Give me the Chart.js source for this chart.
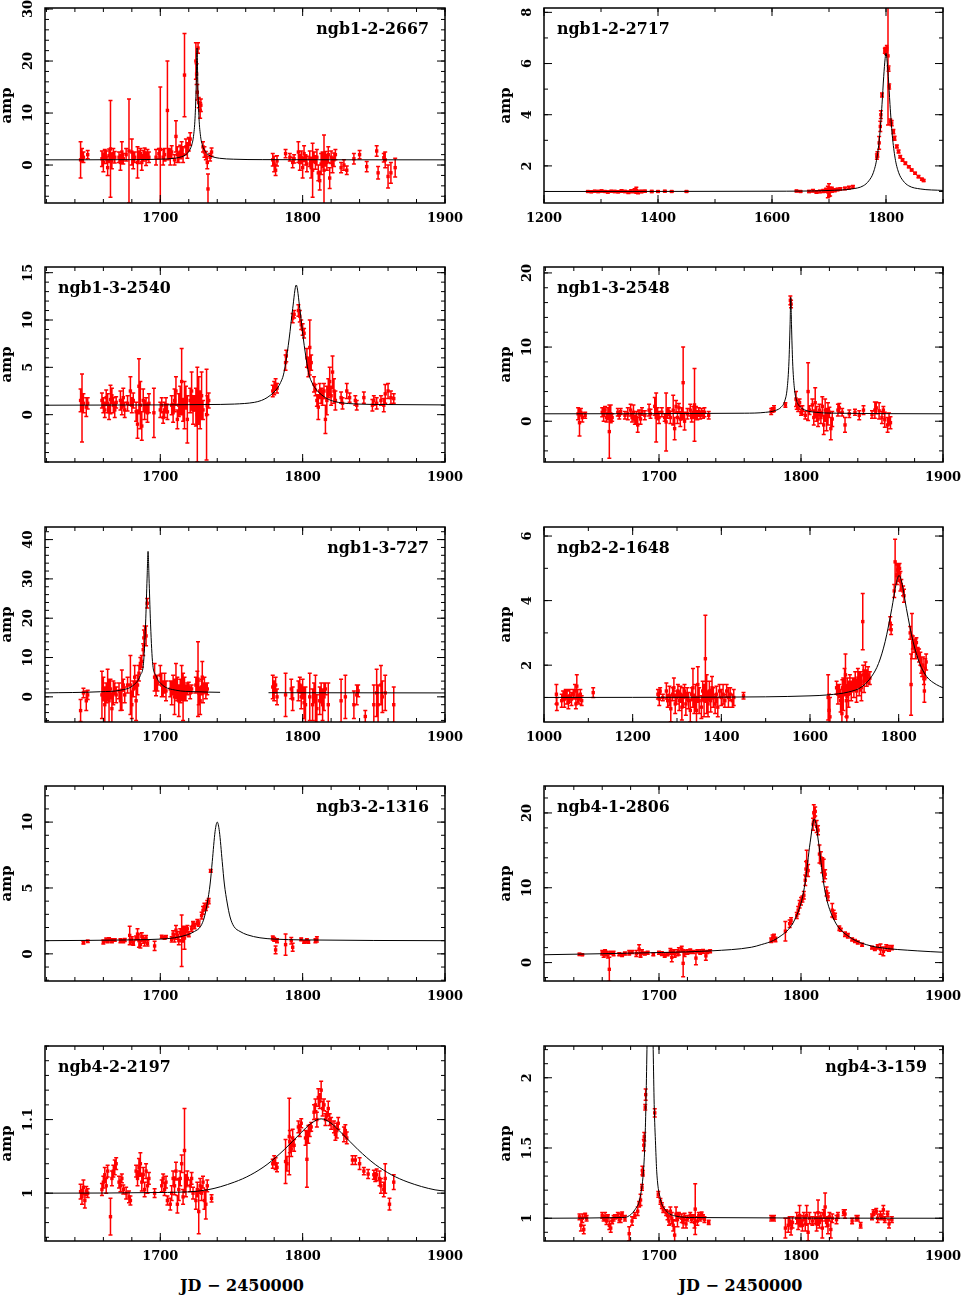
<!DOCTYPE html>
<html>
<head>
<meta charset="utf-8">
<script src="https://cdn.jsdelivr.net/npm/chart.js@4/dist/chart.umd.min.js"></script>
<style>
  body { margin: 0; background: #fff; width: 964px; height: 1295px; position: relative; overflow: hidden; }
  canvas { position: absolute; }
  .xt { position: absolute; top: 1276px; height: 20px; line-height: 20px; text-align: center;
        font: bold 16px "DejaVu Serif", serif; color: #000; margin-left: -3px; }
</style>
</head>
<body>
<div class="xt" style="left:45px;width:400px">JD − 2450000</div>
<div class="xt" style="left:544px;width:399px">JD − 2450000</div>
<script>
// observations are [JD-2450000, amp, error], fits are [JD-2450000, amp]
const p1Obs = [[1644,1.0,3.5],[1645,2.0,1.2],[1646,1.5,1.0],[1649,2.0,0.8],
  [1659,1.2,1.5],[1660,0.5,1.8],[1661,2.0,1.0],[1662,1.5,1.2],[1663,-0.5,1.5],[1664,1.8,1.3],[1665,3.1,9.3],[1666,0.8,1.5],[1667,2.2,1.0],[1668,1.5,1.1],
  [1671,1.5,1.0],[1672,0.5,1.5],[1673,2.5,2.0],[1674,1.2,1.0],[1676,2.0,1.2],[1678,2.7,10],[1680,2.5,2.5],[1681,0.8,1.5],[1682,1.5,1.0],
  [1684,0.5,3.0],[1685,1.5,1.2],[1686,2.2,1.0],[1687,0.5,1.5],[1688,1.8,1.0],[1689,2.3,1.0],[1690,1.2,1.3],[1691,2.0,1.0],[1692,1.5,1.0],
  [1697,1.5,1.5],[1699,2.2,1.0],[1700,3.0,12],[1702,1.5,1.5],[1703,2.0,1.2],[1705,10.5,9.5],[1706,2.2,1.0],[1707,1.5,1.5],[1708,2.5,1.2],[1710,1.0,1.0],
  [1711,5.5,3.0],[1712,2.0,1.5],[1713,1.5,1.0],[1714,2.5,1.3],[1715,3.0,1.5],[1716,2.0,1.5],[1717,17.3,8.0],[1718,3.5,1.5],[1719,2.8,1.5],[1720,4.0,1.3],[1721,5.0,1.2],
  [1725,20,3.5],[1725.5,17.5,2],[1726,14,1.5],[1726.5,22.5,1],[1727,12,1],[1728,10.5,1.5],[1728.5,11.5,1.2],
  [1730,3.5,1],[1731,2.5,1],[1732,1.8,0.8],[1733,0.5,1.2],[1733.5,-4.6,2.9],[1735,1.5,0.7],[1736,2.5,0.8],
  [1779,1.0,1.2],[1780,0.2,1.5],[1781,-1.0,1.0],[1782,0.8,1.0],
  [1788,2.2,0.8],[1791,1.5,0.7],[1793,0.5,1.0],[1794,1.2,0.8],
  [1797,2.5,2],[1798,0.5,1.5],[1799,1.5,1.2],[1800,-0.5,2],[1801,2.2,1.5],[1802,1,1],[1803,0.2,1.5],[1805,1.2,1.5],[1806,-0.5,2],[1807,-1,5.2],
  [1808,1.5,1],[1809,0.5,1.3],[1810,1.5,1.5],[1811,-1.5,1.5],[1812,-3,1.8],[1813,0.2,2],[1814,1,1.5],[1815,-1,6.8],[1816,1.2,1.4],[1817,0.5,1.5],
  [1818,2,1.5],[1819,-2.5,2],[1820,1.5,1.2],[1821,0,1.5],[1822,1,1.3],[1823,2,1],
  [1827,-0.5,1],[1829,0,1],[1831,-1,0.8],[1836,1.2,1],[1840,2,0.8],[1845,-0.3,1],[1852,2.7,1],[1853,-1.5,1.2],[1857,1.4,0.8],[1858,1,1.5],
  [1860,-2.2,2.2],[1862,-1.5,2],[1865,-0.5,1.8]];
const p1Fit = [[1619,1.0],[1680,1.04],[1700,1.12],[1710,1.3],[1715,1.6],[1718,2.0],[1720,2.6],[1722,3.8],[1723.3,5.5],[1724.4,9],[1725.2,15],
  [1725.8,22.5],[1726.4,15],[1727.2,9],[1728.3,5.5],[1729.6,3.8],[1731.6,2.6],[1733.6,2.0],[1736.6,1.6],[1741.6,1.3],[1751.6,1.12],[1771.6,1.04],[1900,1.0]];

const p2Obs = [[1277,1.0,0.03],[1283,0.99,0.03],[1289,1.01,0.03],[1295,1.0,0.04],[1301,1.02,0.04],[1307,1.0,0.03],[1312,0.98,0.04],[1318,1.01,0.03],
  [1324,1.0,0.04],[1330,0.99,0.04],[1336,1.02,0.05],[1342,1.0,0.04],[1348,0.97,0.05],[1353,1.01,0.06],[1359,1.03,0.08],[1362,1.05,0.12],[1365,0.98,0.07],
  [1371,1.0,0.05],[1377,1.01,0.04],[1389,1.0,0.04],[1400,1.0,0.03],[1412,1.01,0.03],[1424,1.0,0.03],[1450,1.0,0.03],
  [1643,1.02,0.03],[1650,1.0,0.03],[1665,1.0,0.04],[1672,1.03,0.05],[1678,0.98,0.05],[1684,1.0,0.05],[1690,1.02,0.06],[1695,1.05,0.08],[1698,0.98,0.22],
  [1700,1.05,0.25],[1702,1.0,0.18],[1705,1.07,0.1],[1710,1.05,0.06],[1715,1.08,0.05],[1720,1.1,0.05],[1728,1.12,0.05],[1735,1.15,0.05],[1742,1.18,0.05],
  [1784,2.36,0.1],[1785,2.45,0.1],[1788,2.9,0.25],[1790,3.54,0.2],[1791,4.0,0.15],[1793,4.77,0.08],[1798,6.5,0.1],[1799,6.53,0.1],[1800,6.45,0.1],
  [1801.5,6.6,0.1],[1803.5,6.3,2.7],[1804.5,5.8,0.1],[1805.6,5.1,0.1],[1807.4,3.73,0.1],[1810,3.67,0.1],[1813,3.34,0.08],[1815,3.08,0.08],[1819,2.76,0.06],
  [1822,2.56,0.06],[1825,2.36,0.05],[1829,2.23,0.05],[1834,2.1,0.05],[1840,1.97,0.04],[1845,1.84,0.04],[1851,1.71,0.04],[1857,1.58,0.04],[1863,1.48,0.04],[1866,1.43,0.04]];
const p2Fit = [[1200,1.0],[1600,1.01],[1700,1.04],[1740,1.1],[1760,1.22],[1770,1.42],[1778,1.75],[1784,2.3],[1789,3.2],[1793,4.4],[1796,5.5],[1798.5,6.2],
  [1800,6.4],[1801.5,6.2],[1804,5.5],[1807,4.4],[1811,3.2],[1816,2.3],[1822,1.75],[1830,1.42],[1840,1.22],[1860,1.1],[1900,1.04]];

const p3Obs = [[1644,1.5,1.2],[1645,0.7,3.6],[1646,1.2,1.0],[1648,0.8,1.0],[1649,1.2,0.6],
  [1659,1.5,0.8],[1660,1.0,0.8],[1661,0.5,0.8],[1662,1.8,0.8],[1663,1.2,1.0],[1664,0.3,0.8],[1665,1.6,1.5],[1666,2.0,0.8],[1667,1.0,0.8],[1668,0.5,0.8],[1669,1.3,0.6],
  [1672,1.5,1.0],[1673,0.8,0.8],[1674,1.8,1.0],[1675,0.5,0.8],[1677,1.2,0.8],[1679,2.5,1.5],[1680,1.0,0.8],[1681,1.5,0.8],
  [1683,0.3,1.0],[1684,-1.0,1.5],[1685,3.0,2.9],[1686,1.0,2.5],[1687,-1.2,1.5],[1688,1.5,1.2],[1689,0.5,1.0],[1690,1.0,0.8],[1691,0.2,1.0],[1692,1.2,1.0],
  [1695.5,0.2,2.6],[1700,0.5,0.8],[1701,1.0,0.8],[1702,-0.3,0.6],[1703,0.5,0.8],[1704,1.0,0.8],[1705,0.3,0.8],[1708,1.0,1.0],[1709,0.2,1.0],[1710,1.5,1.2],
  [1711,2.5,1.5],[1712,-0.5,1.0],[1713,1.0,1.2],[1714,1.5,1.5],[1715,3.5,3.5],[1716,0.5,1.2],[1717,1.0,2.5],[1718,1.8,1.2],[1719,-0.5,2.5],
  [1721,1.5,1.3],[1722,2.5,2.0],[1723,0.5,1.5],[1724,1.2,0.8],[1725,0.8,2.0],[1726,0.0,5.0],[1727,1.5,2.5],[1728,0.5,2.0],[1729,2.0,2.5],[1730,0.5,1.0],
  [1732.5,0.0,4.8],[1733,1.0,1.0],[1734,1.5,0.8],
  [1779,2.5,0.6],[1780,2.8,0.7],[1781,3.2,0.6],[1782,2.8,0.5],[1788,5.5,0.8],[1788.5,6.2,0.6],[1793,10.2,0.5],[1794,10.6,0.4],
  [1797,11.0,0.6],[1798,10.4,0.6],[1799,9.5,0.5],[1800,9.0,0.6],[1801,8.6,0.5],[1803,6.0,1.0],[1804,5.0,1.0],[1805,7.1,2.9],[1806,5.5,0.8],
  [1808,3.2,0.8],[1809,2.6,0.6],[1810,1.5,0.6],[1811,0.8,1.3],[1812,2.5,0.8],[1813,2.0,0.8],[1814,1.8,0.8],[1815,2.5,0.8],[1816,-0.5,1.5],[1817,1.5,1.5],
  [1818,2.8,1.0],[1819,3.5,1.5],[1820,2.0,1.0],[1821,4.5,1.7],[1822,2.5,1.3],[1823,1.5,1.0],
  [1827,1.8,0.6],[1828,1.2,0.6],[1831,2.5,0.8],[1833,1.8,0.5],[1837,1.5,0.5],[1838,1.0,0.5],[1843,1.8,0.6],[1849,1.0,0.6],[1850,1.5,0.5],[1852,1.2,0.6],
  [1855,1.5,0.5],[1857,1.0,0.7],[1858,2.2,1.0],[1860,2.5,0.8],[1862,1.8,0.7],[1864,1.7,0.5]];
const p3Fit = [[1619,1.0],[1700,1.03],[1733,1.07],[1752,1.12],[1766,1.3],[1771,1.5],[1775,1.8],[1780,2.4],[1782.5,2.85],[1784.5,3.4],[1786.5,4.2],
  [1788,5.4],[1790.5,8.0],[1793,11.2],[1795.5,13.7],[1798,11.2],[1800.5,8.0],[1803,5.4],[1804.5,4.2],[1806.5,3.4],[1808.5,2.85],[1811,2.4],
  [1816,1.8],[1820,1.5],[1825,1.3],[1839,1.12],[1858,1.07],[1900,1.03]];

const p4Obs = [[1643,1.0,0.8],[1644,-0.2,1.8],[1645,1.2,0.5],[1646,0.5,0.6],[1648,0.8,0.4],
  [1660,1.2,0.6],[1661,0.8,0.8],[1662,1.5,0.5],[1663,0.5,0.6],[1664,1.0,0.8],[1665,-1.4,3.6],[1666,1.0,1.2],[1667,0.5,0.5],
  [1671,1.2,0.5],[1672,0.8,0.5],[1673,1.3,0.4],[1676,0.8,0.5],[1678,1.0,0.8],[1680,1.5,0.8],[1681,0.5,0.6],[1682,1.2,1.0],[1683,0.2,0.6],
  [1684,0.5,0.8],[1685,-0.5,1.0],[1686,1.0,0.5],[1687,0.3,0.7],[1688,1.3,0.5],[1690,0.8,0.6],[1693,1.5,0.8],[1694,1.0,0.6],
  [1697,2.0,1.2],[1698,0.5,3.3],[1699,1.0,0.8],[1700,0.5,0.8],[1702,1.2,0.6],[1704,0.5,0.5],[1705,-0.1,3.9],[1706,1.0,0.6],
  [1707,1.3,0.5],[1708,0.5,0.8],[1710,1.5,2.0],[1711,-1.0,1.5],[1712,2.0,0.8],[1713,0.5,0.8],[1714,1.8,0.6],[1715,0.3,1.0],[1716,1.0,0.8],[1717,5.2,4.8],[1718,0.0,1.2],
  [1720,1.0,0.7],[1722,1.5,0.8],[1723,0.5,0.6],[1724,1.2,0.8],[1725,2.2,4.9],[1726,1.2,0.8],[1727,0.8,0.6],[1728,1.3,0.5],[1729,0.8,0.5],[1730,1.2,0.5],
  [1731,0.9,0.5],[1732,1.2,0.6],[1735,0.8,0.5],
  [1779,1.3,0.4],[1780,1.5,0.3],[1781,1.7,0.4],[1789,2.2,0.3],[1792.5,16.3,0.6],[1793,15.8,0.5],
  [1796.5,3.0,1.0],[1797,2.2,0.6],[1798,1.8,0.5],[1799,2.5,0.5],[1800,1.2,0.4],[1801,1.5,0.6],
  [1803,0.8,0.5],[1805,4.0,3.9],[1806,1.5,0.6],[1808,2.2,0.8],[1809,0.5,1.0],[1810,2.5,2.0],[1811,1.0,1.0],[1812,0.3,1.0],[1813,1.5,0.8],
  [1814,0.5,0.8],[1815,2.0,1.3],[1816,-0.5,1.3],[1817,1.5,1.5],[1818,0.2,1.5],[1819,1.0,1.5],[1820,1.2,0.7],[1821,-1.0,1.5],[1822,0.3,1.0],
  [1826,1.5,0.8],[1827,1.8,0.6],[1829,1.2,0.5],[1831,-0.5,1.0],[1834,1.0,0.5],[1838,1.2,0.4],[1841,0.8,0.6],[1844,1.5,0.6],[1850,0.9,0.5],
  [1852,1.5,1.1],[1853,1.8,0.8],[1855,1.4,1.1],[1857,0.5,0.8],[1858,1.5,0.5],[1859,0.2,1.0],[1861,-0.5,1.0],[1862,0.3,0.8],[1863,-0.2,0.8]];
const p4Fit = [[1619,1.0],[1760,1.08],[1775,1.2],[1782,1.45],[1786,1.9],[1788.5,2.7],[1790.3,4.5],[1791.5,8],[1792.3,13],[1792.8,16.7],
  [1793.3,13],[1794.1,8],[1795.3,4.5],[1797.1,2.7],[1799.6,1.9],[1803.6,1.45],[1810.6,1.2],[1825.6,1.08],[1900,1.0]];

const p5Obs = [[1644,-3.5,2.8],[1646,1.0,1.2],[1648,-1.0,2.5],[1649,0.5,1.2],
  [1659,0.5,6.0],[1660,2.0,3.0],[1661,-2.0,4.5],[1662,1.0,2.5],[1663,3.0,4.0],[1664,-1.0,5.5],[1665,2.0,2.5],[1666,-3.0,4.0],[1667,1.0,3.0],[1668,2.0,1.5],[1669,0.5,2.0],
  [1671,1.5,2.0],[1672,-1.0,2.5],[1673,1.7,5.1],[1674,3.0,1.5],[1675,0.5,2.0],[1677,3.0,2.0],[1679,3.0,7.5],[1680,-2.0,3.5],[1681,2.0,2.0],
  [1682,5.0,3.0],[1683,-1.0,5.0],[1684,3.0,2.5],[1685,6.0,2.0],[1686,8.5,1.5],[1687,9.0,1.5],[1688,12.0,1.5],[1688.5,15.0,2.0],[1689,16.5,1.5],[1690,15.5,2.5],
  [1690.8,23.8,1.2],
  [1696,5.0,3.5],[1697,2.8,2.5],[1698,3.5,2.0],[1700,5.5,2.5],[1701,3.0,3.0],[1702,2.0,2.0],[1703,3.5,2.5],[1704,1.5,2.5],
  [1707,2.0,2.0],[1708,1.0,3.0],[1709,3.0,2.5],[1710,0.0,4.5],[1711,4.0,4.5],[1712,2.0,3.0],[1713,-1.0,4.0],[1714,1.5,3.0],[1715,3.5,4.5],[1716,0.0,6.0],
  [1717,2.0,3.0],[1718,1.0,2.0],[1719,2.0,1.5],[1720,2.5,1.2],[1721,1.0,1.5],[1722,2.0,1.0],
  [1725,3.0,2.0],[1726,4.0,2.5],[1726.5,4.5,9.5],[1727,1.0,3.0],[1728,-1.0,3.5],[1729,2.5,2.0],[1729.5,5.0,4.0],[1730,1.0,2.5],[1731,3.0,2.0],[1732,1.5,2.0],[1733,2.0,1.5],
  [1779,2.5,3.0],[1780,1.5,2.5],[1781,3.0,2.0],[1782,0.0,2.0],[1788,0.5,5.5],[1792,2.0,2.5],[1793,-0.5,3.0],
  [1797,1.5,2.5],[1798,3.0,2.0],[1799,0.0,3.0],[1800,2.0,2.5],[1801,-1.5,4.0],[1802,-2.0,4.5],[1805,0.0,6.0],[1807,-2.0,4.0],[1808,1.0,2.5],[1809,-1.0,6.5],
  [1810,-3.0,3.5],[1812,-1.0,3.5],[1813,1.0,2.5],[1814,-2.0,4.0],[1815,0.0,3.5],[1816,2.0,1.5],[1818,-2.0,5.5],
  [1827,-1.0,5.5],[1830,0.0,5.5],[1836,-2.0,3.5],[1838,0.5,2.5],[1839,1.5,1.5],[1844,-5.0,1.5],[1850,-2.0,5.0],[1852,1.0,6.0],[1853,-2.0,5.0],
  [1855,3.0,5.0],[1856,0.0,4.0],[1858,1.0,4.5],[1864,-2.0,4.5]];
const p5Fit = [[1619,1.0],[1658,1.3],[1672,1.7],[1681.3,3.0],[1686,5.5],[1688.3,9],[1689.8,20],[1690.7,30],[1691.4,37],[1692.1,30],[1693,20],
  [1694.5,9],[1696.8,5.5],[1701.5,3.0],[1710.8,1.7],[1725,1.3],[1742,1.15],[1759,null],[1776,1.05],[1900,1.0]];

const p6Obs = [[1028,1.1,0.3],[1029,0.8,0.2],[1040,0.9,0.2],[1043,1.05,0.15],[1046,0.95,0.25],[1049,1.1,0.15],[1052,1.0,0.2],[1055,0.85,0.2],[1058,1.05,0.2],
  [1062,0.95,0.2],[1066,1.1,0.15],[1070,1.2,0.2],[1072,0.8,0.15],[1074,1.35,0.35],[1076,1.05,0.2],[1079,0.95,0.15],[1082,1.1,0.15],[1085,0.9,0.15],[1111,1.15,0.15],
  [1257,1.1,0.15],[1260,0.95,0.2],[1262,1.2,0.1],[1268,1.0,0.1],
  [1276,1.2,0.25],[1279,0.9,0.2],[1283,1.05,0.3],[1286,0.65,0.4],[1290,1.1,0.2],[1293,1.3,0.3],[1296,0.8,0.3],[1299,1.0,0.2],[1302,1.2,0.2],[1305,0.9,0.3],
  [1308,1.1,0.25],[1311,0.7,0.4],[1314,1.0,0.3],[1317,1.2,0.2],[1320,0.8,0.35],[1323,1.1,0.2],[1326,0.9,0.25],[1330,0.6,0.35],[1333,1.1,0.2],[1336,1.3,0.6],
  [1339,0.8,0.3],[1342,1.0,0.4],[1344,0.6,0.4],[1347,1.4,0.55],[1350,0.9,0.4],[1355,0.7,0.35],[1358,1.2,0.3],[1361,0.9,0.5],[1364,2.2,1.35],[1367,1.1,0.6],
  [1370,0.8,0.4],[1373,1.2,0.3],[1376,0.9,0.35],[1379,1.3,0.35],[1382,1.0,0.3],[1386,0.8,0.3],[1389,1.1,0.25],[1392,0.7,0.3],[1396,1.2,0.2],[1400,1.0,0.25],
  [1404,1.1,0.3],[1408,0.9,0.2],[1412,1.2,0.2],[1416,1.0,0.3],[1420,1.1,0.2],[1425,0.9,0.2],[1428,1.0,0.25],[1450,1.05,0.1],
  [1641,1.0,0.7],[1643,0.6,0.5],[1645,0.4,0.6],[1660,1.3,0.2],[1663,1.1,0.3],[1666,1.2,0.2],[1669,0.9,0.35],[1672,0.5,0.6],[1673,1.3,0.25],[1675,1.1,0.5],
  [1678,1.5,0.4],[1680,1.7,0.65],[1682,0.9,0.5],[1683,0.4,0.7],[1684,1.3,0.3],[1687,1.1,0.4],[1690,1.4,0.3],[1693,1.2,0.3],[1696,1.4,0.2],[1699,1.3,0.3],
  [1702,1.5,0.3],[1705,1.2,0.35],[1708,1.6,0.3],[1711,1.4,0.35],[1714,1.5,0.3],[1716,1.3,0.4],[1719,3.35,0.87],[1720,1.7,0.3],[1722,1.5,0.35],[1725,1.8,0.3],
  [1728,1.6,0.25],[1731,1.7,0.25],[1735,1.6,0.2],
  [1781,3.3,0.2],[1783,3.1,0.15],[1790,4.3,0.2],[1792,5.2,0.7],
  [1796,4.8,0.3],[1798,4.95,0.2],[1800,4.85,0.25],[1802,5.0,0.15],[1804,4.6,0.3],[1806,4.5,0.15],[1810,4.3,0.15],[1812,4.15,0.2],
  [1826,3.0,0.2],[1828,1.4,0.95],[1830,2.9,0.7],[1832,2.7,0.2],[1835,2.6,0.2],[1838,2.5,0.3],[1840,2.7,0.15],[1843,2.4,0.15],[1846,2.3,0.2],[1849,2.2,0.2],
  [1851,2.0,0.25],[1853,1.8,0.15],[1855,2.0,0.25],[1857,1.6,0.2],[1858,1.2,0.35],[1860,1.9,0.3],[1862,2.1,0.25]];
const p6Fit = [[1000,1.0],[1400,1.01],[1500,1.02],[1600,1.05],[1641,1.08],[1687,1.17],[1717,1.33],[1739,1.65],[1754.5,2.05],[1769.5,2.73],[1784.6,3.76],
  [1794,4.5],[1801,4.78],[1808,4.5],[1817.4,3.76],[1832.5,2.73],[1847.5,2.05],[1863,1.65],[1885,1.4],[1900,1.3]];

const p7Obs = [[1646,0.85,0.1],[1649,0.95,0.08],
  [1660,0.9,0.15],[1662,1.05,0.15],[1663,0.95,0.1],[1664,1.1,0.12],[1666,1.0,0.15],[1668,1.05,0.1],
  [1672,1.0,0.15],[1674,0.95,0.1],[1675,1.05,0.12],[1678.5,1.4,0.7],[1679,0.9,0.2],[1680,1.1,0.2],[1681,0.8,0.15],[1683,1.2,0.15],
  [1684,1.5,0.4],[1685,1.0,0.5],[1686,0.7,0.25],[1687,1.3,0.3],[1688,1.1,0.3],[1689,0.9,0.3],[1690,1.2,0.2],[1691,0.8,0.2],
  [1696,0.6,0.35],[1701,1.3,0.12],[1703,1.2,0.1],[1704,1.3,0.1],
  [1708,1.1,0.2],[1709,1.5,0.25],[1710,1.2,0.3],[1711,1.8,0.35],[1712,1.4,0.3],[1713,1.0,0.3],[1714,1.6,0.3],[1715,1.0,1.95],[1716,1.5,0.6],[1717,1.2,0.85],
  [1718,1.7,0.3],[1719,1.9,0.25],[1720,1.5,0.2],[1722,1.9,0.2],[1723,2.3,0.15],[1724,2.1,0.2],[1726,2.4,0.2],[1727,2.3,0.2],[1729,2.9,0.25],[1730,3.3,0.3],
  [1731,3.6,0.25],[1732,3.5,0.2],[1733,3.8,0.25],[1734,4.0,0.2],[1735.4,6.3,0.1],
  [1779,1.2,0.15],[1780,1.1,0.15],[1781,0.3,0.3],[1782,1.0,0.15],[1788,0.7,0.8],[1792,1.0,0.25],[1793,0.5,0.3],
  [1799,1.1,0.1],[1801,0.9,0.1],[1803,1.0,0.15],[1804,0.9,0.1],[1809,1.0,0.15],[1810,1.1,0.2]];
const p7Fit = [[1619,1.0],[1680,1.06],[1700,1.12],[1710,1.22],[1719,1.45],[1724,1.7],[1728.3,2.08],[1731,2.8],[1733,3.86],[1735,5.3],[1736.5,7.0],
  [1738.5,9.3],[1740,10.0],[1741.5,9.3],[1743.5,7.0],[1745,5.3],[1747,3.86],[1749,2.8],[1751.7,2.08],[1756,1.7],[1761,1.45],[1770,1.22],
  [1780,1.12],[1800,1.06],[1900,1.0]];

const p8Obs = [[1644,1.1,0.15],[1646,1.05,0.1],
  [1660,1.3,0.3],[1661,1.1,0.4],[1662,1.4,0.3],[1663,1.2,0.3],[1664,1.0,0.4],[1665,-0.9,1.6],[1666,1.3,0.2],[1668,1.2,0.3],
  [1672,1.1,0.2],[1674,1.0,0.2],[1676,1.2,0.2],[1679,1.3,0.3],[1681,1.4,0.2],[1684,1.2,0.4],[1686,1.8,0.6],[1687,1.0,0.3],[1688,1.4,0.3],[1690,1.2,0.2],[1692,1.3,0.2],
  [1696,1.1,0.2],[1700,1.3,0.2],[1702,1.2,0.25],[1704,1.0,0.3],[1706,1.1,0.2],[1708,1.5,0.4],[1709,0.7,0.6],[1710,1.4,0.3],[1711,1.2,0.5],[1713,1.3,0.4],
  [1714,1.5,0.5],[1716,1.8,0.4],[1717,-0.1,1.8],[1718,1.2,0.4],[1720,1.4,0.3],[1722,1.5,0.3],[1724,1.4,0.2],[1726,0.6,0.9],[1727,1.5,0.2],[1729,1.4,0.3],
  [1731,1.5,0.25],[1733,0.9,0.6],[1734,1.4,0.2],[1736,1.5,0.2],
  [1779,3.0,0.3],[1780,3.3,0.4],[1781,3.5,0.3],[1782,3.1,0.3],[1789,4.2,1.3],[1792,5.2,0.5],[1793,5.6,0.4],
  [1797,6.3,0.4],[1798,7.0,0.5],[1799,7.8,0.5],[1800,8.2,0.5],[1801,8.5,0.4],[1802,9.0,0.5],[1803,11.0,0.7],[1803.5,12.5,1.0],[1804,13.5,1.5],[1805,12.3,0.8],
  [1808.5,18.5,0.8],[1809,20.0,1.1],[1809.5,19.5,0.7],[1810,20.2,0.6],[1811,18.2,0.8],[1812,17.7,0.6],[1813,14.5,1.2],[1814,14.0,0.8],
  [1815,13.0,1.0],[1816,12.3,1.5],[1817,11.8,0.6],[1818,9.5,0.6],[1819,8.8,0.5],
  [1822,7.0,0.9],[1823,6.5,0.5],[1824,6.2,0.4],[1827,4.6,0.3],[1828,4.4,0.2],[1831,3.8,0.3],[1833,3.6,0.3],[1836,3.1,0.2],[1838,2.9,0.2],[1840,2.7,0.2],[1843,2.4,0.2],
  [1850,2.0,0.2],[1852,1.8,0.2],[1854,2.1,0.3],[1856,1.8,0.7],[1858,1.5,0.6],[1860,2.0,0.4],[1862,1.9,0.4],[1864,2.0,0.3]];
const p8Fit = [[1619,1.05],[1701.7,1.35],[1737,1.57],[1765,2.05],[1772,2.4],[1780.5,2.95],[1786,3.6],[1791,4.4],[1795.5,5.7],[1800.5,8.3],[1803,10.8],
  [1806.4,16.0],[1809.4,19.2],[1812.4,16.0],[1815.8,10.8],[1818.3,8.3],[1823.3,5.7],[1827.8,4.4],[1832.8,3.6],[1838.3,2.95],[1846,2.4],
  [1853.8,2.05],[1881.8,1.57],[1900,1.38]];

const p9Obs = [[1644,1.002,0.01],[1645,0.995,0.01],[1646,1.008,0.01],[1647,0.99,0.01],[1648,1.003,0.006],[1649,1.0,0.006],
  [1659,1.005,0.008],[1660,1.015,0.008],[1661,1.025,0.01],[1662,1.01,0.01],[1663,1.03,0.008],[1665,0.968,0.025],[1666,1.02,0.01],[1667,1.03,0.008],
  [1668,1.035,0.01],[1669,1.04,0.008],[1671,1.015,0.008],[1672,1.01,0.008],[1673,1.02,0.006],[1674,1.005,0.006],[1676,1.0,0.008],[1678,0.995,0.008],[1679,0.99,0.006],
  [1683,1.03,0.008],[1684,1.02,0.01],[1685,1.035,0.012],[1686,1.04,0.015],[1687,1.015,0.012],[1688,1.025,0.01],[1689,1.005,0.01],[1690,1.03,0.01],[1691,1.01,0.01],[1692,1.02,0.008],
  [1696,1.0,0.006],[1701,1.01,0.008],[1702,1.02,0.006],[1703,1.005,0.008],[1704,1.015,0.008],[1705,0.99,0.006],
  [1707,0.985,0.008],[1708,1.0,0.01],[1709,1.02,0.01],[1710,1.01,0.012],[1711,1.03,0.012],[1712,0.985,0.012],[1713,1.005,0.015],[1714,1.02,0.01],[1715,1.04,0.012],
  [1716,0.995,0.01],[1717,1.058,0.057],[1718,1.01,0.015],[1719,1.02,0.01],
  [1721,1.01,0.008],[1722,1.02,0.008],[1723,1.0,0.008],[1725,0.99,0.012],[1726,1.005,0.01],[1727,0.975,0.03],[1728,1.01,0.01],[1729,1.0,0.01],[1730,1.015,0.008],
  [1731,0.99,0.012],[1732,0.985,0.02],[1733,1.01,0.008],[1736,0.993,0.005],
  [1779,1.04,0.006],[1780,1.045,0.006],[1781,1.04,0.008],[1782,1.035,0.006],
  [1788,1.043,0.03],[1789,1.04,0.01],[1790.6,1.077,0.052],[1791,1.07,0.015],[1792,1.06,0.01],[1793,1.075,0.012],[1794,1.065,0.008],
  [1797,1.09,0.008],[1798,1.085,0.008],[1799,1.095,0.006],[1802,1.075,0.01],[1803,1.046,0.038],[1804,1.08,0.012],[1805,1.085,0.008],[1806,1.09,0.006],
  [1808,1.11,0.01],[1809,1.12,0.008],[1810,1.1,0.01],[1811,1.13,0.012],[1812,1.125,0.01],[1813,1.14,0.012],[1814,1.115,0.01],[1815,1.12,0.008],[1816,1.1,0.008],
  [1817,1.105,0.006],[1818,1.115,0.01],[1819,1.1,0.008],[1820,1.095,0.008],
  [1822,1.09,0.008],[1823,1.08,0.008],[1824,1.085,0.01],[1825,1.095,0.008],[1829,1.08,0.01],[1830,1.085,0.008],[1831,1.075,0.008],
  [1835,1.045,0.006],[1837,1.045,0.006],[1840,1.04,0.008],[1843,1.03,0.005],[1846,1.026,0.006],[1850,1.025,0.006],[1851,1.022,0.006],[1852,1.025,0.008],
  [1854,1.02,0.01],[1855,1.01,0.01],[1857,1.005,0.01],[1858,1.02,0.02],[1861,0.985,0.008],[1864,1.015,0.01]];
const p9Fit = [[1619,1.0],[1705,1.001],[1733,1.0045],[1752,1.015],[1763.6,1.025],[1775,1.039],[1787,1.059],[1798.8,1.082],[1806,1.095],[1813,1.101],
  [1820,1.095],[1827.2,1.082],[1839,1.059],[1851,1.039],[1862.4,1.025],[1874,1.015],[1893,1.0045],[1900,1.003]];

const p10Obs = [[1644,1.01,0.02],[1645,0.95,0.04],[1646,1.0,0.03],[1647,0.92,0.03],[1648,1.02,0.015],[1649,1.0,0.02],
  [1660,1.02,0.02],[1661,1.0,0.02],[1662,1.01,0.03],[1663,0.98,0.025],[1664,1.01,0.015],[1665,0.95,0.03],[1666,0.93,0.03],[1667,0.98,0.02],[1668,1.0,0.02],[1669,1.01,0.015],
  [1671,1.02,0.02],[1672,0.99,0.02],[1673,1.0,0.03],[1674,1.03,0.015],[1676,1.0,0.02],
  [1679,0.89,0.05],[1681,0.98,0.03],[1683,1.02,0.02],[1685,1.05,0.03],[1686,1.1,0.02],[1687,1.13,0.04],[1688,1.22,0.02],[1688.3,1.34,0.03],[1688.6,1.32,0.02],
  [1689.3,1.52,0.04],[1689.6,1.58,0.03],[1690.3,1.79,0.02],[1690.6,1.88,0.04],[1697,1.75,0.03],
  [1699.5,1.17,0.02],[1701,1.12,0.02],[1702,1.09,0.02],[1703,1.06,0.02],
  [1705,1.04,0.02],[1706,1.02,0.03],[1707,0.98,0.03],[1708,1.05,0.03],[1709,1.0,0.04],[1710,0.95,0.04],[1711,0.88,0.06],[1712,1.03,0.05],[1713,0.99,0.05],[1714,1.02,0.02],
  [1716,1.0,0.03],[1717,0.97,0.04],[1718,1.01,0.025],[1719,0.96,0.03],[1720,1.0,0.02],[1722,1.02,0.02],[1723,0.99,0.02],[1724,1.01,0.015],[1725,0.97,0.04],
  [1725.5,1.065,0.18],[1727,0.98,0.03],[1728,1.02,0.02],[1729,1.0,0.02],[1730,1.03,0.015],[1731,1.01,0.015],[1732,0.99,0.02],[1735,0.97,0.015],
  [1779,1.0,0.02],[1780,1.0,0.015],[1781,1.0,0.02],
  [1789,0.93,0.07],[1791,0.95,0.05],[1792,0.98,0.03],[1793,0.93,0.05],[1794,0.97,0.04],
  [1797,1.0,0.04],[1798,0.97,0.05],[1799,1.02,0.07],[1800,0.98,0.04],[1801,0.95,0.04],[1802,1.01,0.03],[1803,0.96,0.05],[1804,1.02,0.07],[1805,0.9,0.06],
  [1806,1.0,0.04],[1808,0.98,0.03],[1810,1.0,0.04],[1811,0.96,0.05],[1812,1.04,0.09],[1813,0.97,0.04],[1814,1.01,0.03],[1815,0.93,0.07],[1816,1.03,0.03],
  [1817,1.08,0.1],[1818,0.97,0.03],[1819,0.95,0.06],[1820,1.01,0.03],
  [1821,0.92,0.06],[1822,1.0,0.03],[1825,0.99,0.03],[1826,1.02,0.02],[1830,1.04,0.02],[1831,1.03,0.03],[1836,0.98,0.02],[1839,1.0,0.02],[1840,1.0,0.02],
  [1842,0.95,0.02],[1850,1.01,0.02],[1851,1.04,0.02],[1853,1.05,0.02],[1854,1.0,0.03],[1856,1.02,0.03],[1857,1.01,0.02],[1858,1.06,0.03],[1859,0.99,0.02],
  [1861,1.03,0.02],[1862,0.96,0.03],[1864,0.99,0.02]];
const p10Fit = [[1619,1.0],[1673.5,1.005],[1678,1.012],[1683,1.06],[1686.5,1.14],[1689,1.33],[1690,1.52],[1690.8,1.81],[1691.5,2.2],[1692.6,2.9],
  [1693.7,3.3],[1694.8,2.9],[1695.9,2.2],[1696.6,1.81],[1697.6,1.52],[1698.4,1.33],[1700.9,1.14],[1704.5,1.06],[1711,1.017],[1725,1.005],[1900,1.0]];

const panelNames = ['ngb1-2-2667', 'ngb1-2-2717', 'ngb1-3-2540', 'ngb1-3-2548', 'ngb1-3-727',
                    'ngb2-2-1648', 'ngb3-2-1316', 'ngb4-1-2806', 'ngb4-2-2197', 'ngb4-3-159'];
const titleSide = ['right', 'left', 'left', 'left', 'right', 'left', 'right', 'left', 'left', 'right'];
const xRanges = [[1619,1900],[1200,1900],[1619,1900],[1619,1900],[1619,1900],[1000,1900],[1619,1900],[1619,1900],[1619,1900],[1619,1900]];
const xTicks = [[1700,1800,1900],[1200,1400,1600,1800],[1700,1800,1900],[1700,1800,1900],[1700,1800,1900],
                [1000,1200,1400,1600,1800],[1700,1800,1900],[1700,1800,1900],[1700,1800,1900],[1700,1800,1900]];
const xMinor = [20, 100, 20, 20, 20, 100, 20, 20, 20, 20];
const yRanges = [[-7.3,30.2],[0.55,8.17],[-5,15.6],[-5.5,20.8],[-6.4,43.2],[0.24,6.28],[-2.06,12.74],[-2.46,23.6],[0.935,1.2],[0.838,2.226]];
const yTicks = [[0,10,20,30],[2,4,6,8],[0,5,10,15],[0,10,20],[0,10,20,30,40],[2,4,6],[0,5,10],[0,10,20],[1,1.1],[1,1.5,2]];
const yMinor = [2, 1, 1, 2, 2, 1, 1, 2, 0.02, 0.1];

const obsSets = [p1Obs, p2Obs, p3Obs, p4Obs, p5Obs, p6Obs, p7Obs, p8Obs, p9Obs, p10Obs];
const fitSets = [p1Fit, p2Fit, p3Fit, p4Fit, p5Fit, p6Fit, p7Fit, p8Fit, p9Fit, p10Fit];

const FONT = '"DejaVu Serif", serif';
const RED = '#ff0000';
const colLeft = [45, 544];
const colWidth = [400, 399];
const rowTop = [8, 267, 527, 786, 1046];
const boxHeight = 195;

function steps(min, max, step) {
  const out = [];
  for (let k = Math.ceil(min / step - 1e-9); k * step <= max + 1e-9; k++) out.push(k * step);
  return out;
}

// red error bars with little caps, under the points
const errorBars = {
  id: 'errorBars',
  beforeDatasetsDraw(chart) {
    const { ctx, chartArea: a, scales: { x, y } } = chart;
    const obs = chart.data.datasets[1].data;
    ctx.save();
    ctx.beginPath();
    ctx.rect(a.left, a.top, a.width, a.height);
    ctx.clip();
    ctx.strokeStyle = RED;
    ctx.lineWidth = 1.5;
    ctx.beginPath();
    obs.forEach(p => {
      const px = x.getPixelForValue(p.x);
      const top = y.getPixelForValue(p.y + p.e);
      const bot = y.getPixelForValue(p.y - p.e);
      ctx.moveTo(px, top); ctx.lineTo(px, bot);
      ctx.moveTo(px - 2, top); ctx.lineTo(px + 2, top);
      ctx.moveTo(px - 2, bot); ctx.lineTo(px + 2, bot);
    });
    ctx.stroke();
    ctx.restore();
  }
};

// box, inward ticks on all sides, tick labels, axis title and panel name
const frame = {
  id: 'frame',
  afterDraw(chart, args, opts) {
    const i = opts.idx;
    const { ctx, chartArea: a, scales: { x, y } } = chart;
    ctx.save();
    ctx.strokeStyle = '#000';
    ctx.lineWidth = 1;
    ctx.beginPath();
    const xt = (v, len) => {
      const px = x.getPixelForValue(v);
      ctx.moveTo(px, a.bottom); ctx.lineTo(px, a.bottom - len);
      ctx.moveTo(px, a.top); ctx.lineTo(px, a.top + len);
    };
    const yt = (v, len) => {
      const py = y.getPixelForValue(v);
      ctx.moveTo(a.left, py); ctx.lineTo(a.left + len, py);
      ctx.moveTo(a.right, py); ctx.lineTo(a.right - len, py);
    };
    steps(x.min, x.max, xMinor[i]).forEach(v => xt(v, 4));
    xTicks[i].forEach(v => xt(v, 8));
    steps(y.min, y.max, yMinor[i]).forEach(v => yt(v, 4));
    yTicks[i].forEach(v => yt(v, 8));
    ctx.stroke();
    ctx.lineWidth = 1.5;
    ctx.strokeRect(a.left, a.top, a.width, a.height);

    ctx.fillStyle = '#000';
    ctx.textAlign = 'center';
    ctx.textBaseline = 'middle';
    ctx.font = 'bold 13px ' + FONT;
    xTicks[i].forEach(v => ctx.fillText(String(v), x.getPixelForValue(v), a.bottom + 16));
    yTicks[i].forEach(v => {
      ctx.save();
      ctx.translate(a.left - 16.5, y.getPixelForValue(v));
      ctx.rotate(-Math.PI / 2);
      ctx.fillText(String(v), 0, 0);
      ctx.restore();
    });
    ctx.font = 'bold 15px ' + FONT;
    ctx.save();
    ctx.translate(a.left - 37.5, (a.top + a.bottom) / 2);
    ctx.rotate(-Math.PI / 2);
    ctx.fillText('amp', 0, 0);
    ctx.restore();

    ctx.font = 'bold 15.8px ' + FONT;
    if (titleSide[i] === 'right') {
      ctx.textAlign = 'right';
      ctx.fillText(panelNames[i], a.right - 16, a.top + 22);
    } else {
      ctx.textAlign = 'left';
      ctx.fillText(panelNames[i], a.left + 13, a.top + 22);
    }
    ctx.restore();
  }
};

function makePanel(i) {
  const col = i % 2, row = Math.floor(i / 2);
  const canvas = document.createElement('canvas');
  canvas.width = 45 + colWidth[col] + 20;
  canvas.height = 10 + boxHeight + 30;
  canvas.style.left = (colLeft[col] - 45) + 'px';
  canvas.style.top = (rowTop[row] - 10) + 'px';
  document.body.appendChild(canvas);

  new Chart(canvas, {
    type: 'scatter',
    data: {
      datasets: [
        {
          type: 'line',
          data: fitSets[i].map(([x, y]) => ({ x, y })),
          borderColor: '#000',
          borderWidth: 1,
          pointRadius: 0,
          cubicInterpolationMode: 'monotone',
          spanGaps: false,
          clip: 0
        },
        {
          data: obsSets[i].map(([x, y, e]) => ({ x, y, e })),
          backgroundColor: RED,
          pointStyle: 'rect',
          pointRadius: 2.4,
          borderWidth: 0,
          clip: 0
        }
      ]
    },
    options: {
      responsive: false,
      animation: false,
      events: [],
      layout: { padding: { left: 0, right: 20, top: 10, bottom: 0 } },
      plugins: { legend: { display: false }, tooltip: { enabled: false }, frame: { idx: i } },
      scales: {
        x: {
          type: 'linear',
          min: xRanges[i][0],
          max: xRanges[i][1],
          grid: { display: false, drawTicks: false },
          border: { display: false },
          afterBuildTicks: s => { s.ticks = xTicks[i].map(v => ({ value: v })); },
          afterFit: s => { s.height = 30; },
          ticks: { display: false }
        },
        y: {
          type: 'linear',
          min: yRanges[i][0],
          max: yRanges[i][1],
          grid: { display: false, drawTicks: false },
          border: { display: false },
          afterBuildTicks: s => { s.ticks = yTicks[i].map(v => ({ value: v })); },
          afterFit: s => { s.width = 45; },
          ticks: { display: false }
        }
      }
    },
    plugins: [errorBars, frame]
  });
}

for (let i = 0; i < 10; i++) makePanel(i);
</script>
</body>
</html>
